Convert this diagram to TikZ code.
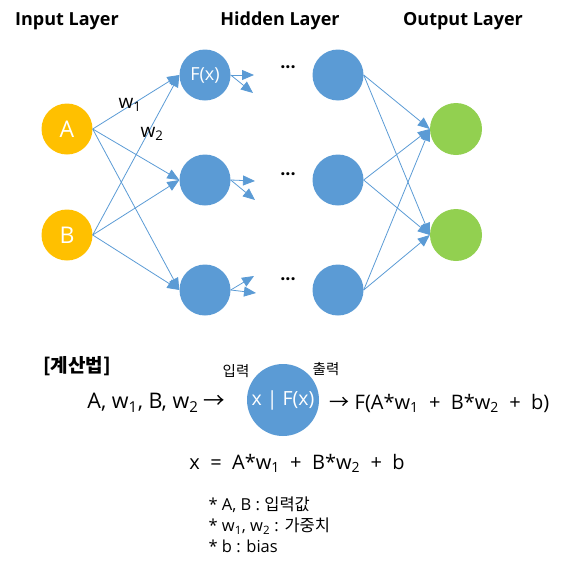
\documentclass[tikz,border=0pt]{standalone}
\usepackage{fontspec}
\setmainfont{Open Sans}
\newfontfamily\kr{Noto Sans CJK KR}
\usetikzlibrary{arrows.meta}

\definecolor{inorange}{HTML}{FFC000}
\definecolor{hidblue}{HTML}{5B9BD5}
\definecolor{outgreen}{HTML}{92D050}

\begin{document}
\begin{tikzpicture}[x=1pt,y=-1pt,
  unit/.style={circle,inner sep=0pt,minimum size=51pt,text=white,font=\fontsize{18}{20}\selectfont},
  inp/.style={unit,fill=inorange,font=\fontsize{23}{26}\selectfont},
  hid/.style={unit,fill=hidblue},
  outn/.style={unit,fill=outgreen,minimum size=52pt},
  conn/.style={draw=hidblue,line width=0.8pt,-{Triangle[length=12pt,width=10pt]}},
  title/.style={font=\fontsize{18}{20}\selectfont\bfseries},
  lbl/.style={font=\fontsize{20}{22}\selectfont},
  dots/.style={font=\fontsize{18}{20}\selectfont\bfseries},
  note/.style={font=\fontsize{16.5}{21}\selectfont,align=left,anchor=west}]
\useasboundingbox (0,0) rectangle (570,565);
% layer titles
\node[title] (tin) at (67,21) {Input Layer};
\node[title] (thid) at (280,21) {Hidden Layer};
\node[title] (tout) at (463,21) {Output Layer};
% units
\node[inp] (A) at (67,129) {A};
\node[inp] (B) at (67,235) {B};
\node[hid] (h11) at (205,75) {F(x)};
\node[hid] (h12) at (205,180) {};
\node[hid] (h13) at (205,290) {};
\node[hid] (h31) at (338,75) {};
\node[hid] (h32) at (338,180) {};
\node[hid] (h33) at (338,290) {};
\node[outn] (o1) at (456,129) {};
\node[outn] (o2) at (456,235) {};
\node[dots] (d1) at (288,70) {···};
\node[dots] (d2) at (288,177) {···};
\node[dots] (d3) at (288,282) {···};
% weights
\foreach \s in {A,B}
  \foreach \t in {h11,h12,h13}
    \draw[conn] (\s.east) -- (\t.west);
\foreach \s in {h31,h32,h33}
  \foreach \t in {o1,o2}
    \draw[conn] (\s.east) -- (\t.west);
\node[lbl,font=\fontsize{19}{22}\selectfont] (w1) at (130,105) {w\textsubscript{1}};
\node[lbl,font=\fontsize{19}{22}\selectfont] (w2) at (152,134) {w\textsubscript{2}};
% outgoing stubs
\coordinate (e11) at (254,75);
\coordinate (e12) at (253,93);
\coordinate (e21) at (255,181);
\coordinate (e22) at (255,200);
\coordinate (e31) at (254,276);
\coordinate (e32) at (256,293);
\draw[conn] (h11.east) -- (e11);
\draw[conn] (h11.east) -- (e12);
\draw[conn] (h12.east) -- (e21);
\draw[conn] (h12.east) -- (e22);
\draw[conn] (h13.east) -- (e31);
\draw[conn] (h13.east) -- (e32);
% calculation
\node[font=\fontsize{19}{22}\selectfont\kr\bfseries] (calc) at (77,366) {[계산법]};
\node[hid,minimum size=72pt,font=\fontsize{19.5}{22}\selectfont] (fx) at (283,400) {x | F(x)};
\node[font=\fontsize{14.5}{16}\selectfont\kr] (tin2) at (236,371) {입력};
\node[font=\fontsize{14.5}{16}\selectfont\kr] (tout2) at (326,369) {출력};
\node[lbl,font=\fontsize{21.5}{24}\selectfont,anchor=east] (lhs) at (229,403) {A, w\textsubscript{1}, B, w\textsubscript{2} {\kr →}};
\node[lbl,font=\fontsize{20}{24}\selectfont,anchor=west] (rhs) at (326,403) {{\kr →} F(A*w\textsubscript{1} \ + \ B*w\textsubscript{2} \ + \ b)};
\node[lbl] (eq) at (297,463) {x \ = \ A*w\textsubscript{1} \ + \ B*w\textsubscript{2} \ + \ b};
\node[note] (notes) at (205,525) {* A, B : {\kr 입력값}\\* w\textsubscript{1}, w\textsubscript{2} : {\kr 가중치}\\* b : bias};
\end{tikzpicture}
\end{document}
